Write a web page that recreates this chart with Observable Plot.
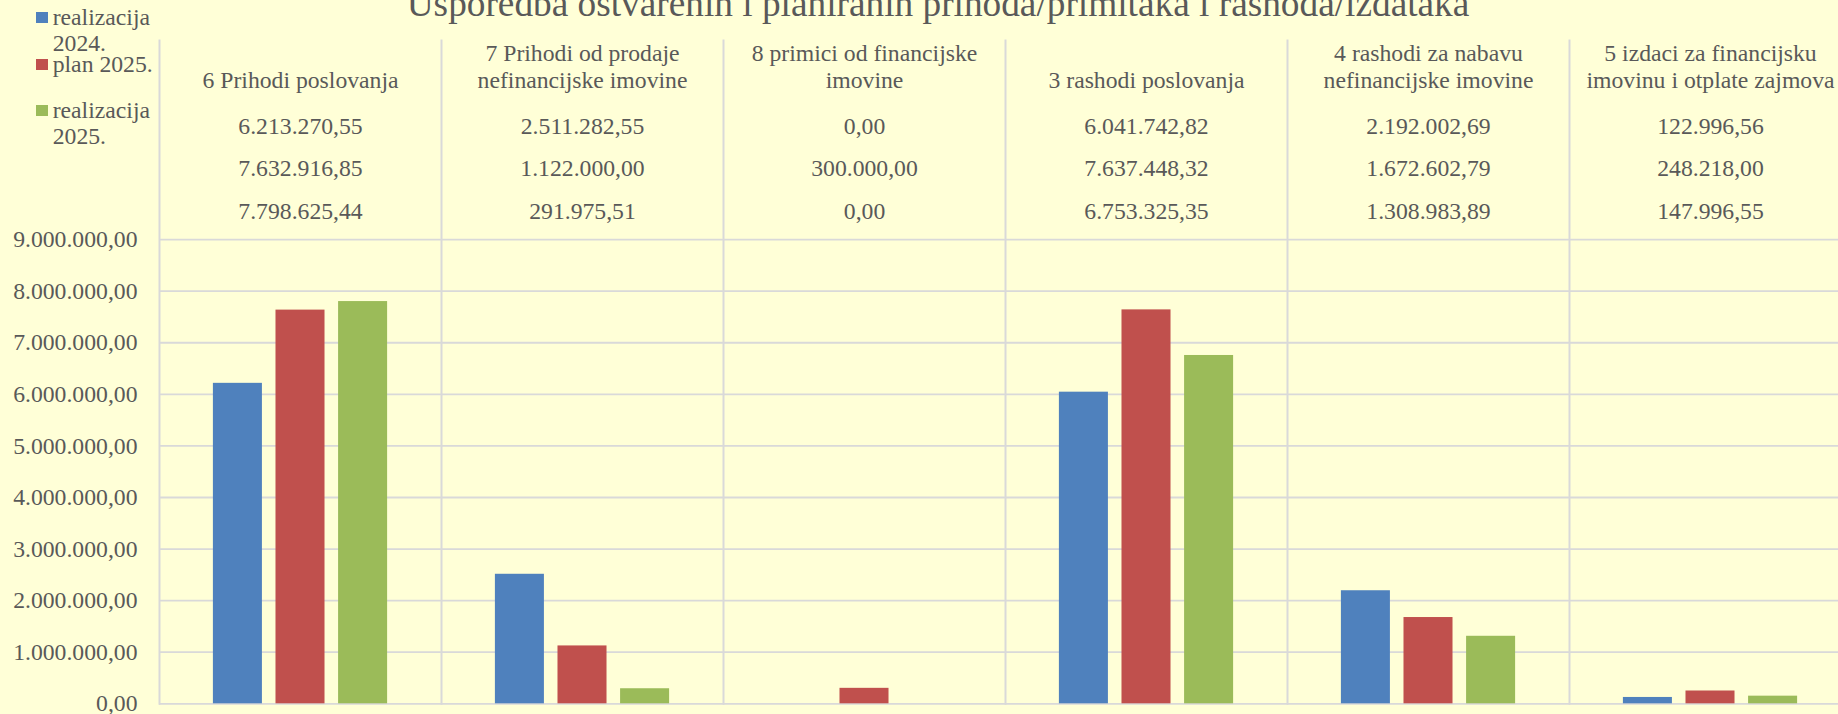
<!DOCTYPE html>
<html>
<head>
<meta charset="utf-8">
<script src="https://cdn.jsdelivr.net/npm/d3@7"></script>
<script src="https://cdn.jsdelivr.net/npm/@observablehq/plot@0.6"></script>
<style>
  html, body { margin: 0; padding: 0; background: #FFFFD7; }
  #wrap { position: relative; width: 1838px; height: 714px; overflow: hidden; background: #FFFFD7;
          font-family: "Liberation Serif", "Times New Roman", serif; color: #595959; }
  #chart { position: absolute; left: 0; top: 0; }
  #title { position: absolute; left: 0; width: 1876px; top: -15px; text-align: center;
           font-size: 37.3px; line-height: 37px; white-space: nowrap; }
  .lg-sq { position: absolute; left: 36px; width: 12px; height: 11px; }
  .lg-tx { position: absolute; left: 52.7px; width: 120px; font-size: 23.7px; line-height: 26.3px; }
</style>
</head>
<body>
<div id="wrap">
  <div id="chart"></div>
  <div id="title"></div>
  <div id="legend"></div>
</div>
<script>
const titleText = "Usporedba ostvarenih i planiranih prihoda/primitaka i rashoda/izdataka";
const categories = [
  "6 Prihodi poslovanja",
  "7 Prihodi od prodaje nefinancijske imovine",
  "8 primici od financijske imovine",
  "3 rashodi poslovanja",
  "4 rashodi za nabavu nefinancijske imovine",
  "5 izdaci za financijsku imovinu i otplate zajmova"
];
const categoryLabels = [
  "6 Prihodi poslovanja",
  "7 Prihodi od prodaje\nnefinancijske imovine",
  "8 primici od financijske\nimovine",
  "3 rashodi poslovanja",
  "4 rashodi za nabavu\nnefinancijske imovine",
  "5 izdaci za financijsku\nimovinu i otplate zajmova"
];
const seriesNames = ["realizacija 2024.", "plan 2025.", "realizacija 2025."];
const seriesColors = ["#4F81BD", "#C0504D", "#9BBB59"];
const realizacija2024 = [6213270.55, 2511282.55, 0.00, 6041742.82, 2192002.69, 122996.56];
const plan2025 = [7632916.85, 1122000.00, 300000.00, 7637448.32, 1672602.79, 248218.00];
const realizacija2025 = [7798625.44, 291975.51, 0.00, 6753325.35, 1308983.89, 147996.55];
const yTicks = [0, 1000000, 2000000, 3000000, 4000000, 5000000, 6000000, 7000000, 8000000, 9000000];

const seriesValues = [realizacija2024, plan2025, realizacija2025];
const rows = categories.flatMap((c, i) =>
  seriesNames.map((s, j) => ({category: c, series: s, value: seriesValues[j][i]})));

const hr = d3.formatLocale({decimal: ",", thousands: ".", grouping: [3], currency: ["", ""]});
const fmt = hr.format(",.2f");

const font = {fontFamily: "Liberation Serif", fontSize: 23.7, fill: "#595959"};

const chart = Plot.plot({
  width: 1838,
  height: 714,
  marginTop: 40,
  marginBottom: 10.7,
  marginLeft: 158.7,
  marginRight: 0,
  style: {background: "#FFFFD7", fontFamily: "Liberation Serif", fontSize: "23.7px", color: "#595959", overflow: "hidden"},
  fx: {domain: categories, range: [158.7, 1850.7], padding: 0, axis: null},
  x: {domain: seriesNames, paddingInner: 0.217, paddingOuter: 0.861, round: false, axis: null},
  y: {domain: [0, 9000000], range: [703.3, 239.1]},
  color: {domain: seriesNames, range: seriesColors},
  marks: [
    Plot.gridY({ticks: yTicks, stroke: "#D9D9D9", strokeOpacity: 1, strokeWidth: 1.8}),
    Plot.frame({anchor: "left", stroke: "#D9D9D9", strokeWidth: 2}),
    Plot.barY(rows, {fx: "category", x: "series", y: "value", fill: "series"}),
    Plot.axisY({ticks: yTicks, tickFormat: fmt, tickSize: 0, tickPadding: 22, label: null, ...font}),
    Plot.text(categories, {fx: d => d, text: categoryLabels, frameAnchor: "top", lineAnchor: "bottom",
                           dy: 47, lineHeight: 1.12, ...font}),
    ...seriesNames.map((s, j) =>
      Plot.text(rows.filter(r => r.series === s), {fx: "category", text: d => fmt(d.value),
                frameAnchor: "top", lineAnchor: "middle", dy: 86 + j * 42.4, ...font}))
  ]
});
document.getElementById("chart").appendChild(chart);
document.getElementById("title").textContent = titleText;

const legend = document.getElementById("legend");
seriesNames.forEach((s, i) => {
  const top = 3.85 + i * 46.65;
  const sq = document.createElement("div");
  sq.className = "lg-sq";
  sq.style.background = seriesColors[i];
  sq.style.top = (top + 21.15 - 13) + "px";
  const tx = document.createElement("div");
  tx.className = "lg-tx";
  tx.style.top = top + "px";
  tx.textContent = s;
  legend.appendChild(sq);
  legend.appendChild(tx);
});
</script>
</body>
</html>
